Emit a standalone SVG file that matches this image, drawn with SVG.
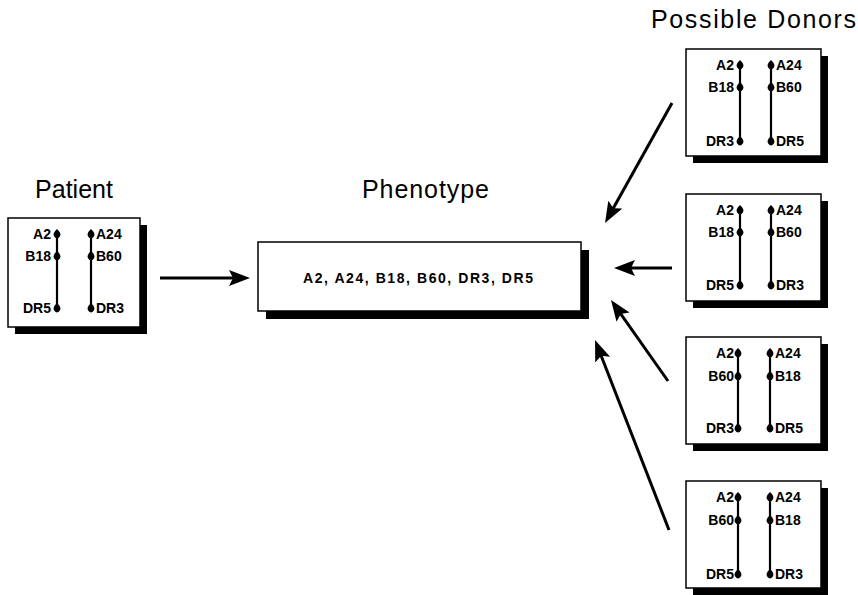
<svg xmlns="http://www.w3.org/2000/svg" width="858" height="595" viewBox="0 0 858 595">
  <style>
    .title { font-family: "Liberation Sans", Arial, sans-serif; font-size: 25px; fill: #000; }
    .lbl { font-family: "Liberation Sans", Arial, sans-serif; font-size: 14px; font-weight: bold; fill: #000; }
    .shadow { fill: #000; }
    .card { fill: #fff; stroke: #000; stroke-width: 1.5; }
    .chrom { stroke: #000; stroke-width: 2.2; fill: none; }
    .locus { fill: #000; }
    .conn { stroke: #000; stroke-width: 3; fill: none; marker-end: url(#head); }
  </style>
  <defs>
    <marker id="head" markerUnits="userSpaceOnUse" markerWidth="22" markerHeight="18" viewBox="0 0 22 18" refX="9" refY="8" orient="auto">
      <path d="M0,0 L21,8 L0,16 L4,8 Z" fill="#000"/>
    </marker>
    <!-- a locus marker on a chromosome line -->
    <path id="dot" class="locus" d="M0,-5 C2,-3 3.4,-1.5 3.4,0.5 C3.4,2.6 2,4 0,4.5 C-2,4 -3.4,2.6 -3.4,0.5 C-3.4,-1.5 -2,-3 0,-5 Z"/>
  </defs>
  <rect width="858" height="595" fill="#fff"/>

  <!-- titles -->
  <text class="title" x="35" y="198" textLength="78" lengthAdjust="spacing">Patient</text>
  <text class="title" x="362" y="198" textLength="127" lengthAdjust="spacing">Phenotype</text>
  <text class="title" x="651" y="28" textLength="205" lengthAdjust="spacing">Possible  Donors</text>

  <!-- patient haplotypes -->
  <g id="patient">
    <rect class="shadow" x="15" y="225" width="132" height="109"/>
    <rect class="card" x="8" y="218" width="132" height="109"/>
    <line class="chrom" x1="57" y1="234" x2="57" y2="308"/>
    <line class="chrom" x1="91" y1="234" x2="91" y2="308"/>
    <use href="#dot" x="57" y="234"/><use href="#dot" x="57" y="256"/><use href="#dot" x="57" y="308"/>
    <use href="#dot" x="91" y="234"/><use href="#dot" x="91" y="256"/><use href="#dot" x="91" y="308"/>
    <g class="lbl" text-anchor="end">
      <text x="51" y="239">A2</text><text x="51" y="261">B18</text><text x="51" y="313">DR5</text>
    </g>
    <g class="lbl">
      <text x="96" y="239">A24</text><text x="96" y="261">B60</text><text x="96" y="313">DR3</text>
    </g>
  </g>

  <!-- combined phenotype -->
  <g id="phenotype">
    <rect class="shadow" x="266" y="250" width="323" height="69"/>
    <rect class="card" x="258" y="242" width="323" height="69"/>
    <text class="lbl" x="303" y="283" textLength="230" lengthAdjust="spacing">A2,  A24,  B18,  B60,  DR3,  DR5</text>
  </g>

  <!-- donor 1 -->
  <g id="donor1">
    <rect class="shadow" x="693" y="56" width="135" height="107"/>
    <rect class="card" x="686" y="49" width="135" height="107"/>
    <line class="chrom" x1="740" y1="65" x2="740" y2="141"/>
    <line class="chrom" x1="771" y1="65" x2="771" y2="141"/>
    <use href="#dot" x="740" y="65"/><use href="#dot" x="740" y="87"/><use href="#dot" x="740" y="141"/>
    <use href="#dot" x="771" y="65"/><use href="#dot" x="771" y="87"/><use href="#dot" x="771" y="141"/>
    <g class="lbl" text-anchor="end">
      <text x="734" y="70">A2</text><text x="734" y="92">B18</text><text x="734" y="146">DR3</text>
    </g>
    <g class="lbl">
      <text x="776" y="70">A24</text><text x="776" y="92">B60</text><text x="776" y="146">DR5</text>
    </g>
  </g>

  <!-- donor 2 -->
  <g id="donor2">
    <rect class="shadow" x="693" y="201" width="135" height="107"/>
    <rect class="card" x="686" y="194" width="135" height="107"/>
    <line class="chrom" x1="740" y1="210" x2="740" y2="285"/>
    <line class="chrom" x1="771" y1="210" x2="771" y2="285"/>
    <use href="#dot" x="740" y="210"/><use href="#dot" x="740" y="232"/><use href="#dot" x="740" y="285"/>
    <use href="#dot" x="771" y="210"/><use href="#dot" x="771" y="232"/><use href="#dot" x="771" y="285"/>
    <g class="lbl" text-anchor="end">
      <text x="734" y="215">A2</text><text x="734" y="237">B18</text><text x="734" y="290">DR5</text>
    </g>
    <g class="lbl">
      <text x="776" y="215">A24</text><text x="776" y="237">B60</text><text x="776" y="290">DR3</text>
    </g>
  </g>

  <!-- donor 3 -->
  <g id="donor3">
    <rect class="shadow" x="693" y="344" width="135" height="107"/>
    <rect class="card" x="686" y="337" width="135" height="107"/>
    <line class="chrom" x1="738" y1="353" x2="738" y2="428"/>
    <line class="chrom" x1="770" y1="353" x2="770" y2="428"/>
    <use href="#dot" x="738" y="353"/><use href="#dot" x="738" y="376"/><use href="#dot" x="738" y="428"/>
    <use href="#dot" x="770" y="353"/><use href="#dot" x="770" y="376"/><use href="#dot" x="770" y="428"/>
    <g class="lbl" text-anchor="end">
      <text x="734" y="358">A2</text><text x="734" y="381">B60</text><text x="734" y="433">DR3</text>
    </g>
    <g class="lbl">
      <text x="775" y="358">A24</text><text x="775" y="381">B18</text><text x="775" y="433">DR5</text>
    </g>
  </g>

  <!-- donor 4 -->
  <g id="donor4">
    <rect class="shadow" x="693" y="488" width="135" height="107"/>
    <rect class="card" x="686" y="481" width="135" height="107"/>
    <line class="chrom" x1="738" y1="497" x2="738" y2="574"/>
    <line class="chrom" x1="770" y1="497" x2="770" y2="574"/>
    <use href="#dot" x="738" y="497"/><use href="#dot" x="738" y="520"/><use href="#dot" x="738" y="574"/>
    <use href="#dot" x="770" y="497"/><use href="#dot" x="770" y="520"/><use href="#dot" x="770" y="574"/>
    <g class="lbl" text-anchor="end">
      <text x="734" y="502">A2</text><text x="734" y="525">B60</text><text x="734" y="579">DR5</text>
    </g>
    <g class="lbl">
      <text x="775" y="502">A24</text><text x="775" y="525">B18</text><text x="775" y="579">DR3</text>
    </g>
  </g>

  <!-- connectors -->
  <g id="connectors">
    <line class="conn" x1="160" y1="278" x2="238" y2="278"/>
    <line class="conn" x1="672" y1="103" x2="610.9" y2="212.5"/>
    <line class="conn" x1="672" y1="268" x2="626" y2="268"/>
    <line class="conn" x1="668" y1="381" x2="617.9" y2="309.8"/>
    <line class="conn" x1="669" y1="530" x2="599.4" y2="351.2"/>
  </g>
</svg>
